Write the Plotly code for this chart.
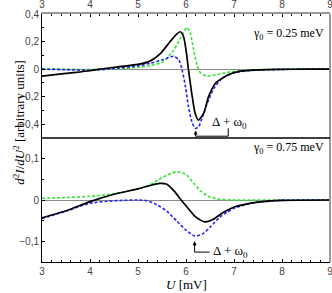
import plotly.graph_objects as go

# ---- top panel (gamma0 = 0.25 meV) ----
top_black_x = [3.0, 3.5, 4.0, 4.2, 4.5, 5.0, 5.25, 5.46, 5.67, 5.8, 5.88, 5.95, 6.01, 6.05, 6.12, 6.19, 6.26, 6.37, 6.47, 6.61, 6.86, 7.13, 7.55, 8.0, 8.5, 9.0]
top_black_y = [-0.051, -0.031, -0.012, 0.0, 0.013, 0.034, 0.058, 0.11, 0.2, 0.252, 0.271, 0.235, 0.114, 0.0, -0.177, -0.32, -0.37, -0.32, -0.20, -0.104, -0.044, -0.015, -0.005, -0.002, 0.0, 0.0]

top_blue_x = [3.0, 3.5, 4.0, 4.3, 4.5, 5.0, 5.25, 5.53, 5.74, 5.85, 5.92, 5.99, 6.05, 6.12, 6.19, 6.26, 6.33, 6.44, 6.58, 6.75, 6.99, 7.34, 8.0, 9.0]
top_blue_y = [0.0, -0.005, -0.008, -0.003, 0.004, 0.024, 0.042, 0.07, 0.093, 0.068, -0.007, -0.13, -0.27, -0.38, -0.43, -0.42, -0.36, -0.25, -0.14, -0.068, -0.027, -0.01, -0.002, 0.0]

top_green_x = [3.0, 3.5, 4.0, 4.5, 5.0, 5.25, 5.53, 5.74, 5.92, 6.02, 6.09, 6.16, 6.23, 6.30, 6.44, 6.65, 6.92, 7.27, 8.0, 9.0]
top_green_y = [0.003, 0.0, -0.004, 0.002, 0.013, 0.025, 0.055, 0.135, 0.247, 0.303, 0.26, 0.138, 0.029, -0.027, -0.051, -0.039, -0.02, -0.007, -0.001, 0.0]

# ---- bottom panel (gamma0 = 0.75 meV) ----
bot_black_x = [3.0, 3.5, 4.0, 4.5, 5.0, 5.25, 5.45, 5.6, 5.75, 5.9, 6.0, 6.2, 6.39, 6.55, 6.75, 6.98, 7.25, 7.5, 8.0, 9.0]
bot_black_y = [-0.043, -0.026, -0.004, 0.014, 0.027, 0.035, 0.040, 0.038, 0.022, 0.0, -0.014, -0.041, -0.053, -0.048, -0.032, -0.018, -0.01, -0.005, -0.001, 0.0]

bot_blue_x = [3.0, 3.5, 4.0, 4.5, 5.0, 5.2, 5.4, 5.6, 5.8, 6.0, 6.18, 6.35, 6.5, 6.7, 6.85, 7.0, 7.25, 7.5, 8.0, 9.0]
bot_blue_y = [-0.045, -0.027, -0.008, -0.002, 0.0, -0.002, -0.012, -0.027, -0.05, -0.073, -0.087, -0.082, -0.066, -0.042, -0.03, -0.02, -0.011, -0.005, -0.001, 0.0]

bot_green_x = [3.0, 3.5, 4.0, 4.5, 5.0, 5.25, 5.5, 5.7, 5.83, 6.0, 6.15, 6.3, 6.5, 6.7, 7.0, 8.0, 9.0]
bot_green_y = [0.004, 0.006, 0.009, 0.015, 0.027, 0.037, 0.054, 0.065, 0.068, 0.062, 0.042, 0.022, 0.007, 0.002, 0.0, 0.0, 0.0]

x_ticks = [3, 4, 5, 6, 7, 8, 9]
top_y_ticks = [-0.4, -0.2, 0, 0.2, 0.4]
top_y_labels = ["−0,4", "−0,2", "0", "0,2", "0,4"]
bot_y_ticks = [-0.1, 0, 0.1]
bot_y_labels = ["−0,1", "0", "0,1"]

BLACK = "#000000"
BLUE = "#2424f0"
GREEN = "#33e533"
DASH = "3px,2px"
SERIF = "Liberation Serif"
SANS = "Liberation Sans"

fig = go.Figure()

def add(x, y, color, dash, xa, ya, w):
    fig.add_trace(go.Scatter(x=x, y=y, mode="lines", xaxis=xa, yaxis=ya,
                             line=dict(color=color, width=w, dash=dash, shape="spline", smoothing=0.6),
                             showlegend=False, hoverinfo="skip"))

add(top_green_x, top_green_y, GREEN, DASH, "x", "y", 1.6)
add(top_blue_x, top_blue_y, BLUE, DASH, "x", "y", 1.6)
add(top_black_x, top_black_y, BLACK, "solid", "x", "y", 1.7)
add(bot_green_x, bot_green_y, GREEN, DASH, "x2", "y2", 1.6)
add(bot_blue_x, bot_blue_y, BLUE, DASH, "x2", "y2", 1.6)
add(bot_black_x, bot_black_y, BLACK, "solid", "x2", "y2", 1.7)

tickfont = dict(family=SANS, size=10, color="#444")
xcommon = dict(range=[3, 9], tickvals=x_ticks, ticktext=[str(v) for v in x_ticks],
               ticks="inside", ticklen=3, tickcolor="#000",
               minor=dict(dtick=0.2, ticks="inside", ticklen=2, tickcolor="#000"),
               showgrid=False, zeroline=False, tickfont=tickfont, fixedrange=True,
               automargin=False, ticklabeloverflow="allow")
ycommon = dict(ticks="inside", ticklen=3, tickcolor="#000",
               showline=True, linecolor="#000", linewidth=1, showgrid=False,
               zeroline=True, zerolinecolor="#8a8a8a", zerolinewidth=1, tickfont=tickfont,
               automargin=False, fixedrange=True, ticklabeloverflow="allow")

fig.update_layout(
    width=332, height=293,
    margin=dict(l=42, r=2, t=14, b=31, autoexpand=False),
    paper_bgcolor="white", plot_bgcolor="white",
    xaxis=dict(**xcommon, domain=[0, 1], anchor="y", side="top",
               showline=True, linecolor="#9a9a9a", linewidth=2),
    yaxis=dict(**ycommon, domain=[0.5, 1], anchor="x", range=[-0.5, 0.4],
               tickvals=top_y_ticks, ticktext=top_y_labels,
               minor=dict(dtick=0.1, ticks="inside", ticklen=2, tickcolor="#000")),
    xaxis2=dict(**xcommon, domain=[0, 1], anchor="y2", side="bottom",
                showline=True, linecolor="#000", linewidth=1),
    yaxis2=dict(**ycommon, domain=[0, 0.5], anchor="x2", range=[-0.15, 0.15],
                tickvals=bot_y_ticks, ticktext=bot_y_labels,
                minor=dict(dtick=0.05, ticks="inside", ticklen=2, tickcolor="#000")),
)

# frame: right gray border, black boundary between panels
fig.add_shape(type="line", xref="paper", yref="paper", x0=1, x1=1, y0=0, y1=1,
              line=dict(color="#9a9a9a", width=2))
fig.add_shape(type="line", xref="paper", yref="paper", x0=0, x1=1, y0=0.5, y1=0.5,
              line=dict(color="#000", width=1.5))

# Delta + omega0 bracket, top panel
fig.add_shape(type="path", xref="x", yref="y",
              path="M 6.2 -0.455 L 6.2 -0.487 L 6.88 -0.487 L 6.88 -0.43",
              line=dict(color="#000", width=1))
fig.add_annotation(x=6.2, y=-0.445, xref="x", yref="y", ax=0, ay=6, text="",
                   showarrow=True, arrowhead=2, arrowsize=0.8, arrowwidth=1, arrowcolor="#000")
fig.add_annotation(x=6.9, y=-0.385, xref="x", yref="y", text="Δ + ω<sub>0</sub>",
                   showarrow=False, font=dict(family=SERIF, size=13, color="#000"))

# Delta + omega0 bracket, bottom panel
fig.add_shape(type="path", xref="x2", yref="y2",
              path="M 6.18 -0.103 L 6.18 -0.126 L 6.49 -0.126",
              line=dict(color="#000", width=1))
fig.add_annotation(x=6.18, y=-0.1, xref="x2", yref="y2", ax=0, ay=6, text="",
                   showarrow=True, arrowhead=2, arrowsize=0.8, arrowwidth=1, arrowcolor="#000")
fig.add_annotation(x=6.53, y=-0.125, xref="x2", yref="y2", text="Δ + ω<sub>0</sub>",
                   showarrow=False, xanchor="left", font=dict(family=SERIF, size=13, color="#000"))

# gamma labels
fig.add_annotation(x=0.985, y=0.96, xref="paper", yref="paper", xanchor="right",
                   text="γ<sub>0</sub> = 0.25 meV", showarrow=False,
                   font=dict(family=SERIF, size=12, color="#000"))
fig.add_annotation(x=0.985, y=0.46, xref="paper", yref="paper", xanchor="right",
                   text="γ<sub>0</sub> = 0.75 meV", showarrow=False,
                   font=dict(family=SERIF, size=12, color="#000"))

# axis titles
fig.add_annotation(x=-0.115, y=0.565, xref="paper", yref="paper", textangle=-90,
                   text="<i>d</i><sup>2</sup><i>I</i>/<i>dU</i><sup>2</sup> [arbitrary units]",
                   showarrow=False, font=dict(family=SERIF, size=13, color="#000"))
fig.add_annotation(x=0.5, y=-0.092, xref="paper", yref="paper", yanchor="middle",
                   text="<i>U</i> [mV]", showarrow=False,
                   font=dict(family=SERIF, size=13, color="#000"))

fig.write_html("out.html", config={"responsive": False, "displayModeBar": False},
               post_script="document.body.style.margin='0';document.body.style.padding='0';")
